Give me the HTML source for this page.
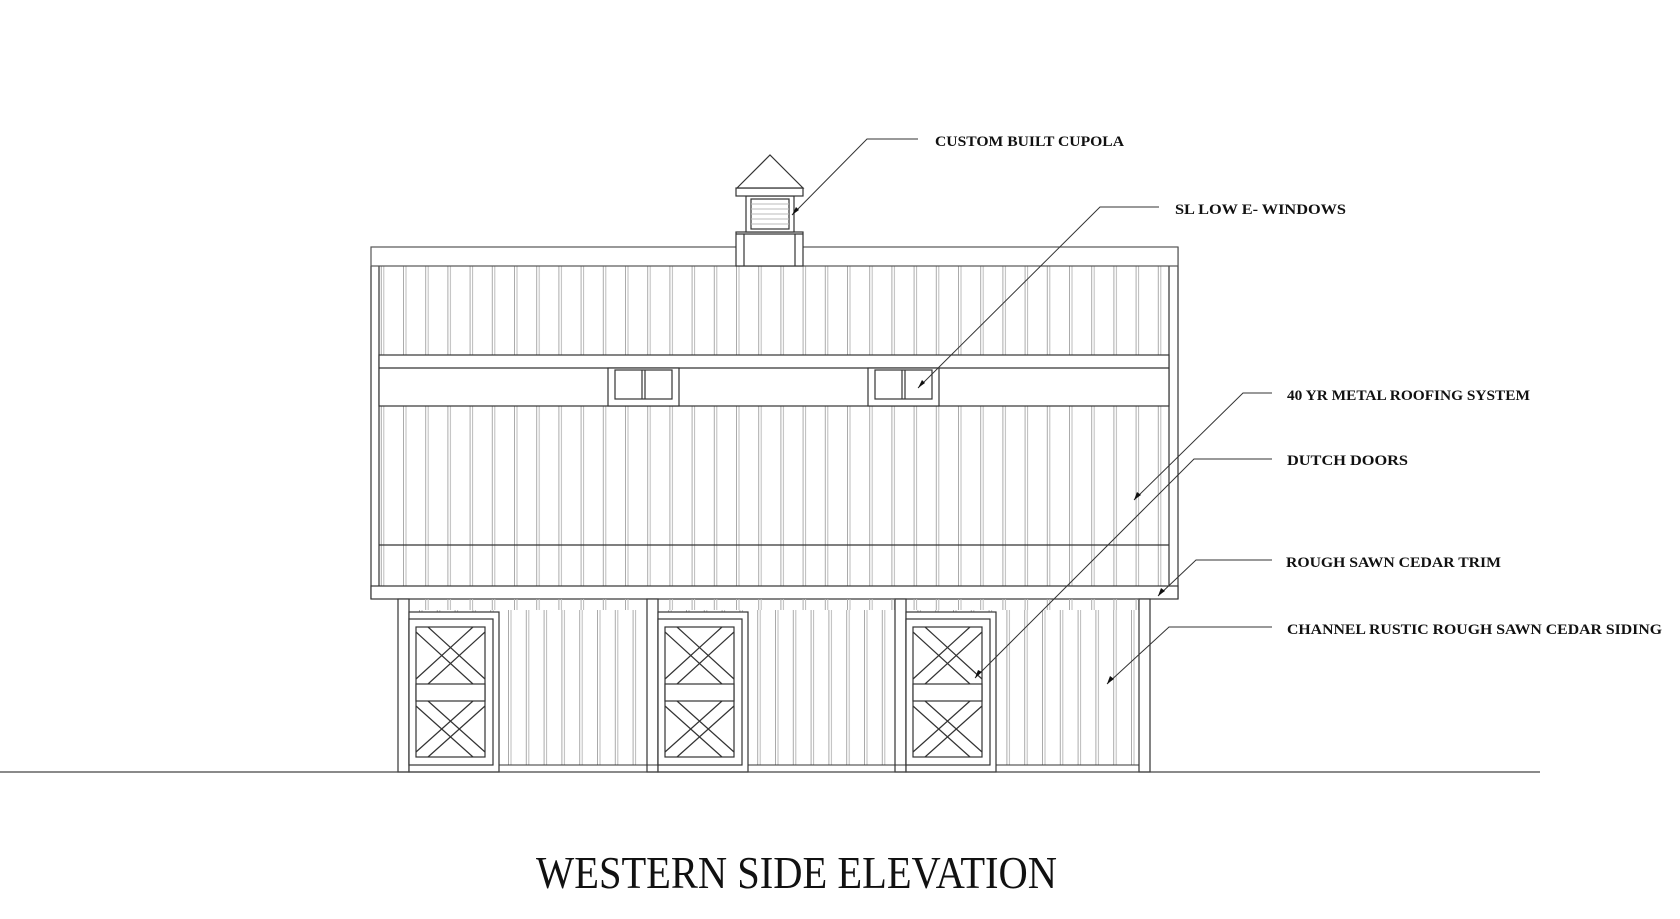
<!DOCTYPE html>
<html><head><meta charset="utf-8"><style>
html,body{margin:0;padding:0;background:#fff;}
svg{display:block}
text{font-family:"Liberation Serif",serif;fill:#111}
</style></head><body>
<svg width="1680" height="919" viewBox="0 0 1680 919" xmlns="http://www.w3.org/2000/svg">
<defs>
<pattern id="bu" x="403" y="0" width="22.2" height="10" patternUnits="userSpaceOnUse">
<line x1="0.5" y1="0" x2="0.5" y2="10" stroke="#aaa" stroke-width="1"/>
<line x1="3" y1="0" x2="3" y2="10" stroke="#bbb" stroke-width="1"/>
</pattern>
<pattern id="bl" x="419" y="0" width="17.8" height="10" patternUnits="userSpaceOnUse">
<line x1="0.5" y1="0" x2="0.5" y2="10" stroke="#aaa" stroke-width="1"/>
<line x1="3" y1="0" x2="3" y2="10" stroke="#bbb" stroke-width="1"/>
</pattern>
<g id="door" fill="#fff" stroke="#333" stroke-width="1.2">
<rect x="0" y="612" width="90" height="160"/>
<rect x="0" y="619" width="84" height="146"/>
<rect x="7" y="627" width="69" height="130"/>
<rect x="7" y="684" width="69" height="17"/>
<line x1="7" y1="632" x2="64" y2="684"/><line x1="19" y1="627" x2="76" y2="679"/>
<line x1="76" y1="632" x2="19" y2="684"/><line x1="64" y1="627" x2="7" y2="679"/>
<line x1="7" y1="706" x2="64" y2="757"/><line x1="19" y1="701" x2="76" y2="752"/>
<line x1="76" y1="706" x2="19" y2="757"/><line x1="64" y1="701" x2="7" y2="752"/>
</g>
<g id="win" fill="#fff" stroke="#333" stroke-width="1.2">
<rect x="0" y="368" width="71" height="38"/>
<rect x="7" y="370" width="57" height="29"/>
<line x1="34" y1="370" x2="34" y2="399"/><line x1="37" y1="370" x2="37" y2="399"/>
</g>
</defs>

<rect x="379" y="266" width="790" height="320" fill="url(#bu)"/>
<g stroke="#333" stroke-width="1.2" fill="none">
<line x1="371" y1="266" x2="371" y2="599"/>
<line x1="379" y1="266" x2="379" y2="586"/>
<line x1="1178" y1="247" x2="1178" y2="599"/>
<line x1="1169" y1="266" x2="1169" y2="586"/>
<line x1="379" y1="545" x2="1169" y2="545"/>
</g>
<rect x="379" y="355" width="790" height="51" fill="#fff" stroke="#333" stroke-width="1.2"/>
<line x1="379" y1="368" x2="1169" y2="368" stroke="#333" stroke-width="1.2"/>
<use href="#win" x="608"/>
<use href="#win" x="868"/>
<rect x="371" y="247" width="807" height="19" fill="#fff" stroke="#555" stroke-width="1.2"/>
<rect x="371" y="586" width="807" height="13" fill="#fff" stroke="#333" stroke-width="1.2"/>
<g fill="#fff" stroke="#333" stroke-width="1.2">
<rect x="736" y="232" width="67" height="34"/>
<line x1="736" y1="234" x2="803" y2="234"/>
<line x1="744" y1="234" x2="744" y2="266"/><line x1="795" y1="234" x2="795" y2="266"/>
<rect x="746" y="196" width="48" height="36"/>
<rect x="751" y="199" width="38" height="30"/>
<rect x="736" y="188" width="67" height="8"/>
<polygon points="737,188 770,155 803,188"/>
</g>
<g stroke="#bbb" stroke-width="1">
<line x1="751" y1="204" x2="789" y2="204"/><line x1="751" y1="209" x2="789" y2="209"/>
<line x1="751" y1="214" x2="789" y2="214"/><line x1="751" y1="219" x2="789" y2="219"/>
<line x1="751" y1="224" x2="789" y2="224"/>
</g>
<rect x="409" y="610" width="730" height="155" fill="url(#bl)"/>
<rect x="409" y="599" width="730" height="11" fill="url(#bu)"/>
<g fill="#fff" stroke="#333" stroke-width="1.2">
<rect x="398" y="599" width="11" height="173"/>
<rect x="647" y="599" width="11" height="173"/>
<rect x="895" y="599" width="11" height="173"/>
<rect x="1139" y="599" width="11" height="173"/>
</g>
<line x1="409" y1="765" x2="1139" y2="765" stroke="#333" stroke-width="1"/>
<use href="#door" x="409"/>
<use href="#door" x="658"/>
<use href="#door" x="906"/>
<line x1="0" y1="772" x2="1540" y2="772" stroke="#444" stroke-width="1.3"/>

<g stroke="#333" stroke-width="1" fill="none">
<polyline points="918,139 867,139 792,215"/>
<polyline points="1159,207 1100,207 918,388"/>
<polyline points="1272,393 1243,393 1134,500"/>
<polyline points="1272,459 1194,459 975,678"/>
<polyline points="1272,560 1196,560 1158,596"/>
<polyline points="1272,627 1169,627 1107,684"/>
</g>
<g fill="#111">
<polygon points="792,215 796,207 799,210"/>
<polygon points="918,388 922,380 925,383"/>
<polygon points="1134,500 1137,492 1141,495"/>
<polygon points="975,678 978,670 982,672"/>
<polygon points="1158,596 1161,588 1165,591"/>
<polygon points="1107,684 1110,676 1114,679"/>
</g>
<g font-size="15" font-weight="bold">
<text x="935" y="146" textLength="189" lengthAdjust="spacingAndGlyphs">CUSTOM BUILT CUPOLA</text>
<text x="1175" y="214" textLength="171" lengthAdjust="spacingAndGlyphs">SL LOW E- WINDOWS</text>
<text x="1287" y="400" textLength="243" lengthAdjust="spacingAndGlyphs">40 YR METAL ROOFING SYSTEM</text>
<text x="1287" y="465" textLength="121" lengthAdjust="spacingAndGlyphs">DUTCH DOORS</text>
<text x="1286" y="567" textLength="215" lengthAdjust="spacingAndGlyphs">ROUGH SAWN CEDAR TRIM</text>
<text x="1287" y="634" textLength="375" lengthAdjust="spacingAndGlyphs">CHANNEL RUSTIC ROUGH SAWN CEDAR SIDING</text>
</g>
<text x="536" y="888" font-size="46" textLength="521" lengthAdjust="spacingAndGlyphs">WESTERN SIDE ELEVATION</text>
</svg>
</body></html>
